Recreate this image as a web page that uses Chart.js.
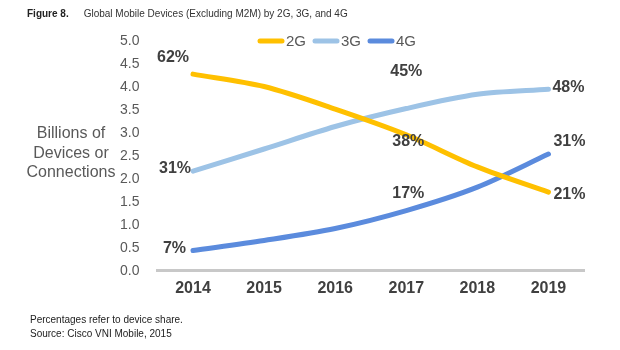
<!DOCTYPE html>
<html>
<head>
<meta charset="utf-8">
<script src="https://cdn.jsdelivr.net/npm/chart.js@4"></script>
<style>
    body { margin: 0; background: #fff; font-family: "Liberation Sans", Arial, sans-serif; }
    #wrap { position: relative; width: 620px; height: 350px; }
    #chart { position: absolute; left: 0; top: 0; }
    .title { position: absolute; left: 27px; top: 8px; font-size: 10px; color: #333; white-space: nowrap; }
    .title b { color: #222; margin-right: 15px; }
    .ytitle { position: absolute; left: 6px; top: 123px; width: 130px; text-align: center;
              font-size: 16px; line-height: 19.5px; color: #595959; }
    .note { position: absolute; left: 30px; top: 313px; font-size: 10px; line-height: 14px; color: #222; }
</style>
</head>
<body>
<div id="wrap">
    <canvas id="chart" width="620" height="350"></canvas>
    <div class="title"><b>Figure 8.</b>Global Mobile Devices (Excluding M2M) by 2G, 3G, and 4G</div>
    <div class="ytitle">Billions of<br>Devices or<br>Connections</div>
    <div class="note">Percentages refer to device share.<br>Source: Cisco VNI Mobile, 2015</div>
</div>
<script>
// =====================================
// DATA
// =====================================

const years = ['2014', '2015', '2016', '2017', '2018', '2019'];

const devices2G = [4.28, 4.01, 3.52, 2.96, 2.26, 1.71];
const devices3G = [2.17, 2.65, 3.14, 3.53, 3.84, 3.95];
const devices4G = [0.44, 0.66, 0.92, 1.31, 1.82, 2.54];

const share2G = ['62%', null, null, '38%', null, '21%'];
const share3G = ['31%', null, null, '45%', null, '48%'];
const share4G = ['7%', null, null, '17%', null, '31%'];

const yTicks = [0, 0.5, 1, 1.5, 2, 2.5, 3, 3.5, 4, 4.5, 5];

const FONT = '"Liberation Sans", Arial, sans-serif';


// =====================================
// LABEL PLACEMENT (offset from point)
// =====================================

const labelPlace = {
    '2G': { 0: [-20, -16, 'center'], 3: [2, 7, 'center'], 5: [5, 2, 'left'] },
    '3G': { 0: [-2, -2, 'right'], 3: [0, -37, 'center'], 5: [4, -2, 'left'] },
    '4G': { 0: [-7, -2, 'right'], 3: [2, -17, 'center'], 5: [5, -12, 'left'] }
};


// =====================================
// PLUGIN: SHARE LABELS + LEGEND
// =====================================

const sharePlugin = {
    id: 'shareLabels',
    afterDatasetsDraw(chart) {
        const ctx = chart.ctx;
        ctx.save();
        ctx.font = 'bold 16px ' + FONT;
        ctx.fillStyle = '#404040';
        ctx.textBaseline = 'middle';

        chart.data.datasets.forEach((ds, i) => {
            const meta = chart.getDatasetMeta(i);
            ds.shares.forEach((txt, j) => {
                if (!txt) return;
                const p = meta.data[j];
                const place = labelPlace[ds.label][j];
                ctx.textAlign = place[2];
                ctx.fillText(txt, p.x + place[0], p.y + place[1]);
            });
        });

        // legend
        let x = 258;
        const y = 41;
        ctx.font = '15px ' + FONT;
        ctx.textAlign = 'left';
        ctx.lineCap = 'round';
        chart.data.datasets.forEach(ds => {
            ctx.strokeStyle = ds.borderColor;
            ctx.lineWidth = 5;
            ctx.beginPath();
            ctx.moveTo(x + 2, y);
            ctx.lineTo(x + 24, y);
            ctx.stroke();
            ctx.fillStyle = '#595959';
            ctx.fillText(ds.label, x + 28, y + 1);
            x += 28 + ctx.measureText(ds.label).width + 7;
        });
        ctx.restore();
    }
};


// =====================================
// CHART
// =====================================

function series(label, data, shares, color) {
    return {
        label: label,
        data: data,
        shares: shares,
        borderColor: color,
        backgroundColor: color,
        borderWidth: 5,
        borderCapStyle: 'round',
        tension: 0.3,
        pointRadius: 0,
        fill: false
    };
}

new Chart(document.getElementById('chart'), {
    type: 'line',
    data: {
        labels: years,
        datasets: [
            series('2G', devices2G, share2G, '#FFC000'),
            series('3G', devices3G, share3G, '#9DC3E6'),
            series('4G', devices4G, share4G, '#5B8BDD')
        ]
    },
    options: {
        responsive: false,
        animation: false,
        layout: {
            padding: { left: 110, right: 36, top: 41, bottom: 52 }
        },
        plugins: {
            legend: { display: false },
            tooltip: { enabled: false }
        },
        scales: {
            x: {
                offset: true,
                grid: { display: false },
                border: { display: true, color: '#C8C8C8', width: 3 },
                ticks: {
                    color: '#404040',
                    padding: 0,
                    font: { family: FONT, size: 16, weight: 'bold' }
                }
            },
            y: {
                min: 0,
                max: 5,
                afterBuildTicks: axis => {
                    axis.ticks = yTicks.map(v => ({ value: v }));
                },
                grid: { display: false },
                border: { display: false },
                ticks: {
                    color: '#595959',
                    padding: 10,
                    font: { family: FONT, size: 14 },
                    callback: v => v.toFixed(1)
                }
            }
        }
    },
    plugins: [sharePlugin]
});
</script>
</body>
</html>
